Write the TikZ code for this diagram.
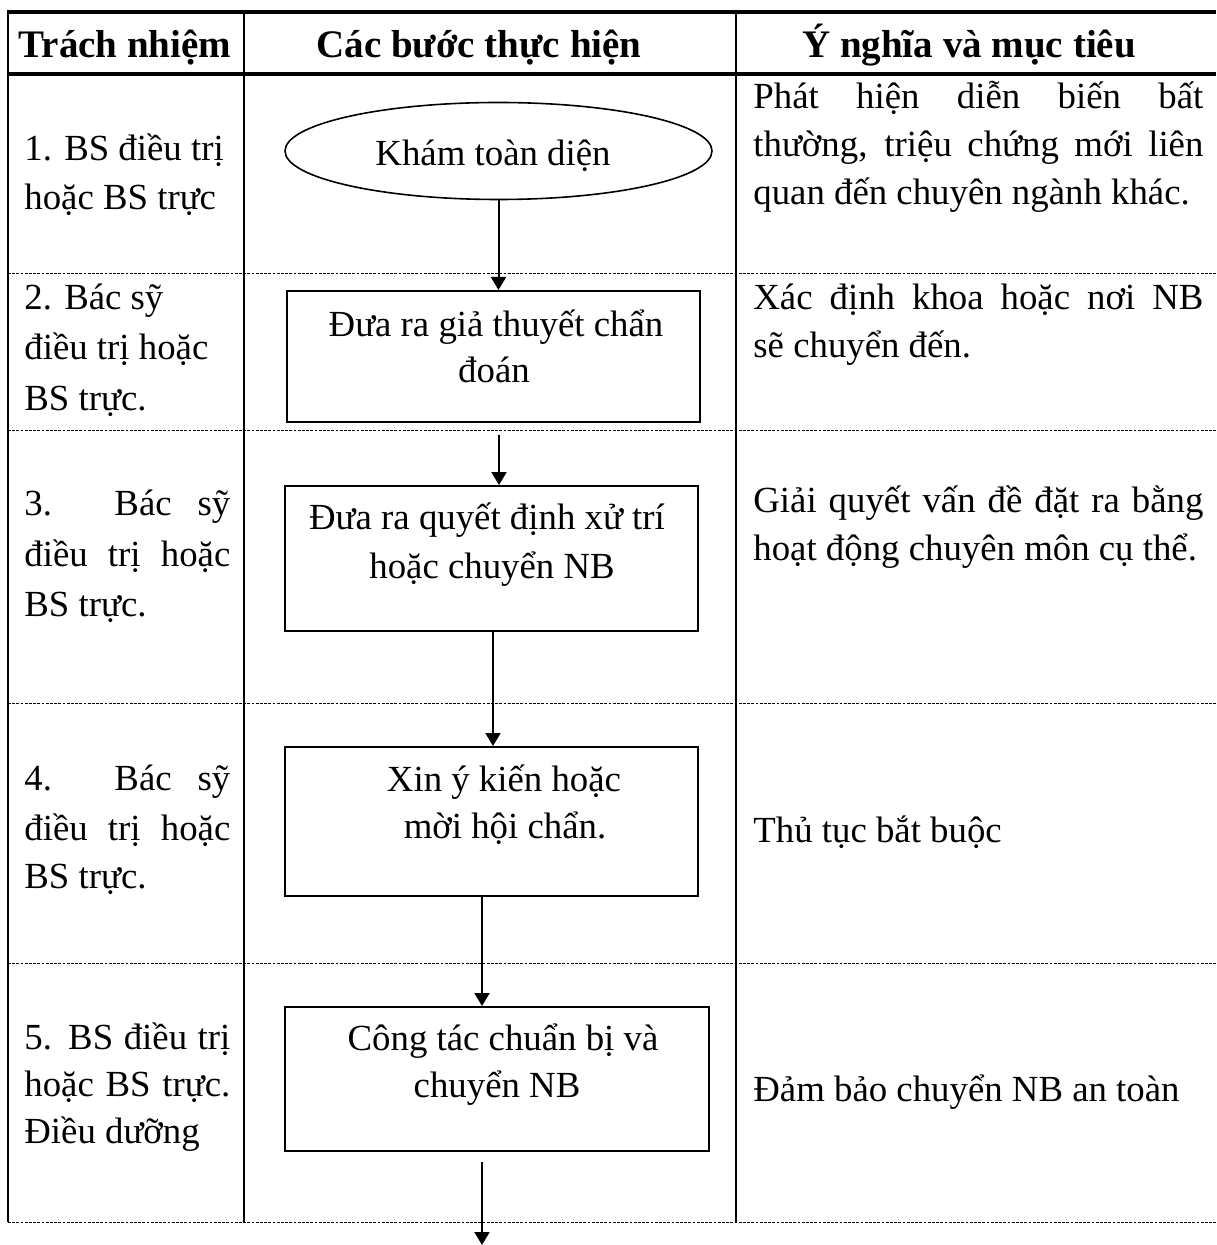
\documentclass[tikz,border=0pt]{standalone}
\usepackage{fontspec}
\setmainfont{Liberation Serif}
\usetikzlibrary{shapes.geometric,arrows.meta}
\newcommand\bodyfont{\fontsize{18.4}{25}\selectfont}
\newcommand\headfont{\fontsize{19.5}{25}\selectfont\bfseries}
\newcommand\jleft[1]{\makebox[103pt][s]{#1}}
\newcommand\jright[1]{\makebox[225pt][s]{#1}}
\begin{document}
\begin{tikzpicture}[x=0.5pt,y=-0.5pt,
  txt/.style={font=\bodyfont, inner sep=0pt, anchor=base west},
  ctxt/.style={font=\bodyfont, inner sep=0pt, anchor=base},
  head/.style={font=\headfont, inner sep=0pt, anchor=base},
  boxnode/.style={draw, line width=1pt, rectangle, inner sep=0pt, minimum width=206.5pt},
  ovalnode/.style={draw, line width=0.8pt, ellipse, inner sep=0pt},
  arr/.style={line width=1pt, -{Triangle[width=7.5pt,length=6.5pt]}},
  rowsep/.style={line width=0.5pt, dash pattern=on 1.4pt off 0.7pt},
  thickrule/.style={line width=1.6pt},
  colrule/.style={line width=1pt}]
\useasboundingbox (0,0) rectangle (1216,1245);

% table rules
\draw[thickrule] (7,12) -- (1216,12);
\draw[thickrule] (7,74) -- (1216,74);
\foreach \yy in {274,430,703,963,1222} \draw[rowsep] (8,\yy) -- (1216,\yy);
\foreach \xx in {8,244,736} \draw[colrule] (\xx,12) -- (\xx,1222);

% header
\node[head] (h1) at (125,58) {Trách nhiệm};
\node[head] (h2) at (479,58) {Các bước thực hiện};
\node[head] (h3) at (969,58) {Ý nghĩa và mục tiêu};

% column 1
\node[txt] (r1a) at (24,161) {1. BS điều trị};
\node[txt] (r1b) at (24,210) {hoặc BS trực};
\node[txt] (r2a) at (24,310) {2. Bác sỹ};
\node[txt] (r2b) at (24,360) {điều trị hoặc};
\node[txt] (r2c) at (24,410) {BS trực.};
\node[txt] (r3a) at (24,515) {\jleft{3. Bác sỹ}};
\node[txt] (r3b) at (24,566) {\jleft{điều trị hoặc}};
\node[txt] (r3c) at (24,616) {BS trực.};
\node[txt] (r4a) at (24,790) {\jleft{4. Bác sỹ}};
\node[txt] (r4b) at (24,840) {\jleft{điều trị hoặc}};
\node[txt] (r4c) at (24,888) {BS trực.};
\node[txt] (r5a) at (24,1049) {\jleft{5. BS điều trị}};
\node[txt] (r5b) at (24,1096) {\jleft{hoặc BS trực.}};
\node[txt] (r5c) at (24,1143) {Điều dưỡng};

% column 3
\node[txt] (m1a) at (753,109) {\jright{Phát hiện diễn biến bất}};
\node[txt] (m1b) at (753,157) {\jright{thường, triệu chứng mới liên}};
\node[txt] (m1c) at (753,205) {quan đến chuyên ngành khác.};
\node[txt] (m2a) at (753,310) {\jright{Xác định khoa hoặc nơi NB}};
\node[txt] (m2b) at (753,358) {sẽ chuyển đến.};
\node[txt] (m3a) at (753,512) {\jright{Giải quyết vấn đề đặt ra bằng}};
\node[txt] (m3b) at (753,560) {hoạt động chuyên môn cụ thể.};
\node[txt] (m4a) at (753,842) {Thủ tục bắt buộc};
\node[txt] (m5a) at (753,1101) {Đảm bảo chuyển NB an toàn};

% flow shapes
\node[ovalnode, minimum width=213.5pt, minimum height=48.5pt] (e1) at (498.5,151) {};
\node[boxnode, minimum height=65.5pt] (b2) at (493.5,356.5) {};
\node[boxnode, minimum height=72.5pt] (b3) at (491.5,558.5) {};
\node[boxnode, minimum height=74.5pt] (b4) at (491.5,821.5) {};
\node[boxnode, minimum width=212pt, minimum height=72pt] (b5) at (497,1079) {};

\node[ctxt] (t1) at (493,166) {Khám toàn diện};
\node[ctxt] (t2a) at (496,337) {Đưa ra giả thuyết chẩn};
\node[ctxt] (t2b) at (494,383) {đoán};
\node[ctxt] (t3a) at (487,529) {Đưa ra quyết định xử trí};
\node[ctxt] (t3b) at (492,578) {hoặc chuyển NB};
\node[ctxt] (t4a) at (504,791) {Xin ý kiến hoặc};
\node[ctxt] (t4b) at (505,838) {mời hội chẩn.};
\node[ctxt] (t5a) at (503,1050) {Công tác chuẩn bị và};
\node[ctxt] (t5b) at (497,1097) {chuyển NB};

% connectors
\coordinate (a2s) at (499,435);
\coordinate (x3) at (493,0);
\coordinate (x4) at (482,0);
\coordinate (a5s) at (482,1162);
\coordinate (a5e) at (482,1245);
\draw[arr] (e1.south) -- (e1.south |- b2.north);
\draw[arr] (a2s) -- (a2s |- b3.north);
\draw[arr] (b3.south -| x3) -- (b4.north -| x3);
\draw[arr] (b4.south -| x4) -- (b5.north -| x4);
\draw[arr] (a5s) -- (a5e);
\end{tikzpicture}
\end{document}
